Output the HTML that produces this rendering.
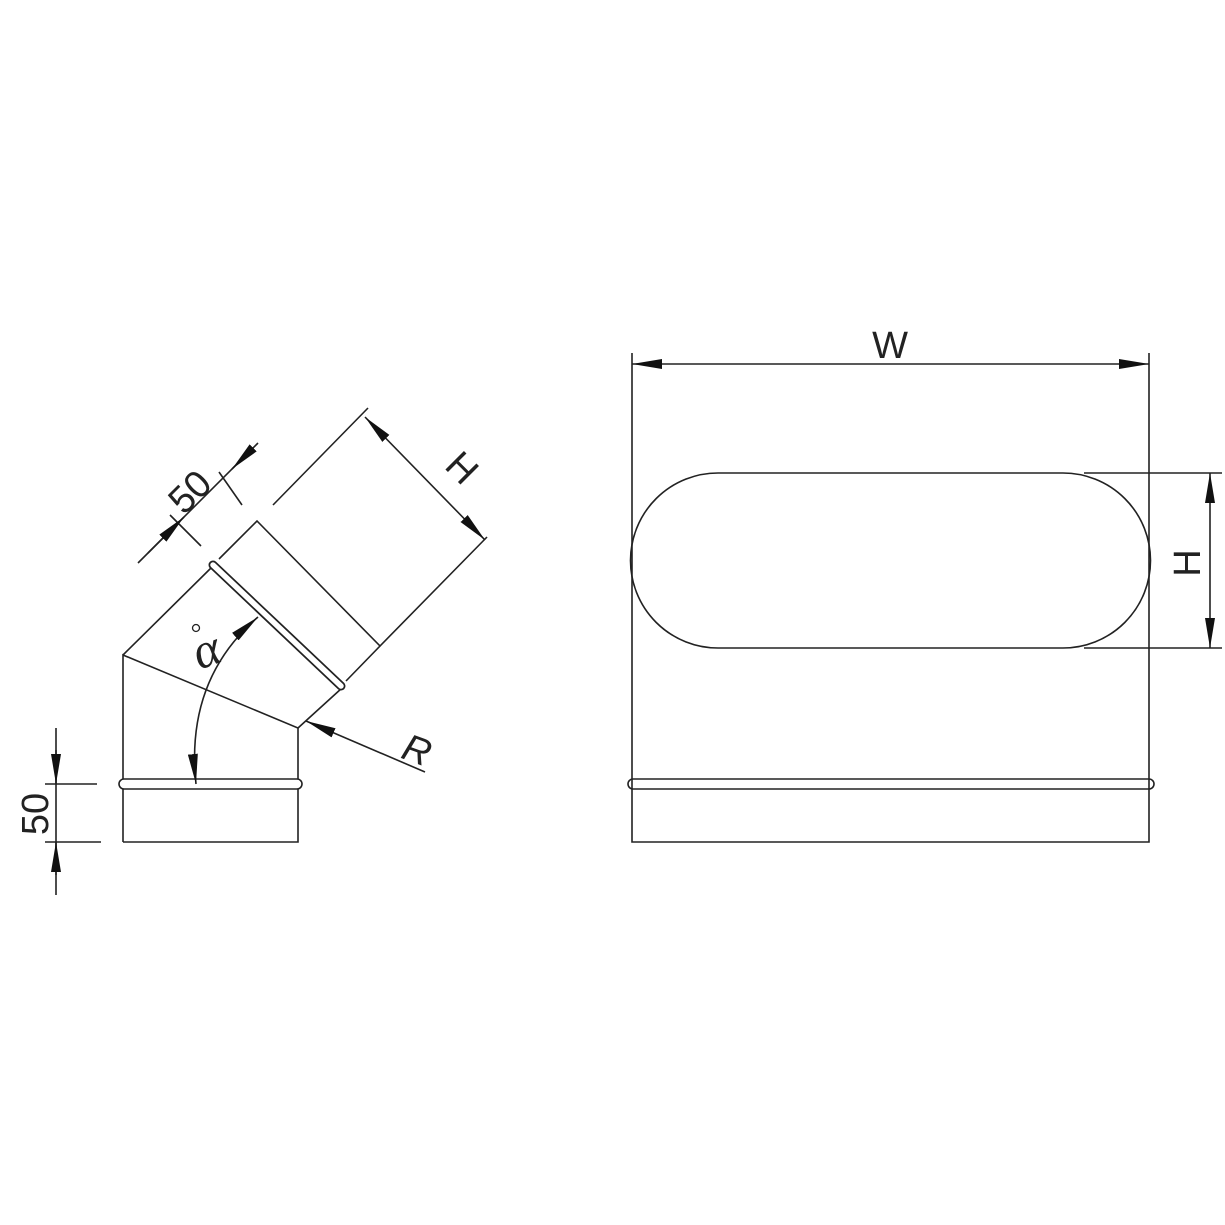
<!DOCTYPE html>
<html><head><style>html,body{margin:0;padding:0;background:#fff}svg{display:block}</style></head>
<body>
<svg width="1225" height="1225" viewBox="0 0 1225 1225" xmlns="http://www.w3.org/2000/svg">
<defs>
<marker id="a" viewBox="0 0 30 10" refX="30" refY="5" markerWidth="30" markerHeight="10" markerUnits="userSpaceOnUse" orient="auto-start-reverse"><path d="M0,0 L30,5 L0,10 Z" fill="#111"/></marker>
</defs>
<g fill="none" stroke="#222" stroke-width="1.6">
<!-- left elbow -->
<path d="M123,842 H298 V789 M123,842 V789"/>
<rect x="119" y="779" width="183" height="10" rx="5"/>
<path d="M123,779 V655 L298,728 V779"/>
<path d="M123,655 L213,566 M298,728 L342,688"/>
<path d="M213,565 L341,686" stroke-width="9" stroke-linecap="round"/>
<path d="M213,565 L341,686" stroke="#fff" stroke-width="5.5" stroke-linecap="round"/>
<path d="M219,559 L257,521 L380,646 L346,681"/>
<path d="M380,646 L487,537 M273,505 L368,408"/>
<path d="M365,417 L485,540" marker-start="url(#a)" marker-end="url(#a)"/>
<path d="M138,563 L258,443"/>
<path d="M170,515 L201,546 M219,472 L242,505"/>
<path d="M148,553 L184,517" marker-end="url(#a)"/>
<path d="M250,451 L232,469" marker-end="url(#a)"/>
<path d="M258,617 Q185,680 196,784" marker-start="url(#a)" marker-end="url(#a)"/>
<path d="M425,772 L306,721" marker-end="url(#a)"/>
<path d="M56,728 V895 M45,784 H97 M45,842 H101"/>
<path d="M56,750 V784" marker-end="url(#a)"/>
<path d="M56,875 V842" marker-end="url(#a)"/>
<circle cx="196" cy="628" r="3.5" stroke-width="1.3"/>
<!-- right -->
<path d="M632,353 V842 H1149 V353"/>
<path d="M632,364 H1149" marker-start="url(#a)" marker-end="url(#a)"/>
<path d="M718,473 H1063 A87.5,87.5 0 0 1 1063,648 H718 A87.5,87.5 0 0 1 718,473 Z"/>
<path d="M1084,473 H1222 M1084,648 H1222"/>
<path d="M1210,473 V648" marker-start="url(#a)" marker-end="url(#a)"/>
<rect x="628" y="779" width="526" height="10" rx="5"/>
</g>
<g font-family="Liberation Sans, sans-serif" font-size="38" fill="#222" text-anchor="middle">
<text x="890" y="358">W</text>
<text transform="translate(1200,563) rotate(-90)">H</text>
<text transform="translate(453,477) rotate(45)">H</text>
<text transform="translate(199,501) rotate(-45)">50</text>
<text transform="translate(48,814) rotate(-90)">50</text>
<text x="417" y="763" font-style="italic" transform="rotate(20 417 750)">R</text>
<text x="208" y="666" font-family="Liberation Serif, serif" font-style="italic" font-size="50" transform="rotate(-20 208 655)">α</text>
</g>
</svg>
</body></html>
